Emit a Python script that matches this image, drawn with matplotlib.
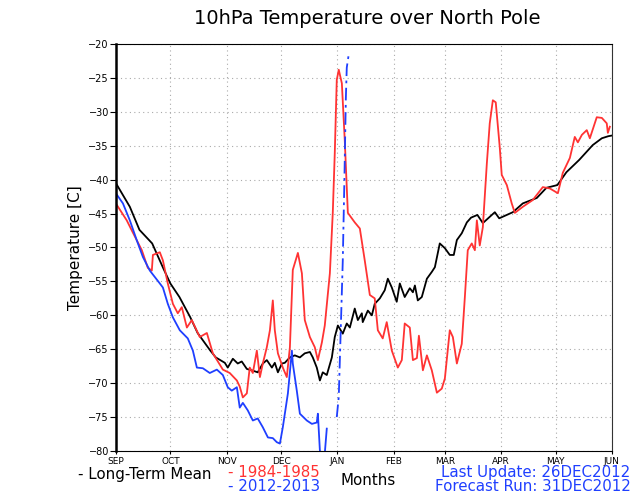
import numpy as np
import matplotlib
matplotlib.use("Agg")
import matplotlib.pyplot as plt

# days since 1 Sep
months = ['SEP', 'OCT', 'NOV', 'DEC', 'JAN', 'FEB', 'MAR', 'APR', 'MAY', 'JUN']
month_days = [0, 30, 61, 91, 122, 153, 181, 212, 242, 273]

mean_days = [0, 7.7, 13, 20, 26, 30, 35, 41, 45, 52, 55, 60, 61.6, 64.4, 67.1, 69.3,
             72.1, 74.8, 78.1, 80.9, 83.1, 85.9, 87.5, 89.2, 91.4, 93, 95.8, 98.5,
             101.3, 104, 106.8, 108.4, 110.6, 112.3, 113.9, 116.1, 118.9, 120.5, 122.2,
             124.9, 127.1, 128.8, 131.5, 133.2, 135.4, 135.9, 138.7, 140.9, 142.5,
             145.3, 148, 149.7, 151.9, 154.6, 156.3, 159, 161.8, 163.5, 164.6, 166.2,
             168.4, 171.2, 173.9, 175.6, 178.3, 181.1, 183.8, 186, 187.7, 190.4, 193.2,
             195.5, 199, 202, 208.6, 211, 218.5, 224, 231.7, 237, 243, 248, 255, 262.5,
             267.5, 271, 273]
mean_temp = [-40.5, -44, -47.4, -49.4, -53, -55.3, -57.3, -60.3, -62.6, -65.2, -66.2,
             -67, -67.7, -66.4, -67.1, -66.8, -67.9, -68.1, -68.4, -67.1, -66.6, -67.7,
             -67, -68.4, -67.1, -67, -66.2, -65.9, -66.2, -65.6, -65.4, -66.2, -67.7,
             -69.6, -68.4, -68.8, -66.2, -63.2, -61.5, -62.7, -61.2, -61.8, -59, -60.7,
             -59.7, -61, -59.3, -60, -58.3, -57.5, -56.3, -54.6, -55.9, -58, -55.3,
             -57.3, -56, -56.6, -55.6, -57.8, -57.3, -54.6, -53.6, -52.9, -49.4, -50.1,
             -51.1, -51.1, -48.9, -47.9, -46.3, -45.6, -45.2, -46.4, -44.8, -45.7,
             -44.8, -43.5, -42.7, -41.2, -40.8, -38.9, -37.1, -34.9, -33.9, -33.6,
             -33.5]

y1984_days = [0, 6, 8.8, 14.3, 17.6, 19.8, 20.4, 24.2, 25.9, 28.6, 31.4, 34.1, 36.3,
              39.1, 41.8, 46.2, 50.1, 53.4, 58.9, 62.7, 66.6, 68.2, 69.9, 72.1, 73.7,
              75.4, 77.6, 79.3, 80.9, 83.1, 84.8, 86.4, 87.5, 89.2, 91.9, 94.1, 95.8,
              97.4, 100.2, 102.4, 104, 106.8, 109.5, 111.2, 113.4, 115, 117.8, 119.4,
              120.5, 121.6, 122.7, 124.4, 126, 127.7, 131.5, 134.3, 137, 139.8, 142.5,
              144.2, 146.9, 149.1, 151.9, 155.2, 157.4, 159, 161.8, 163.5, 165.7, 166.8,
              169, 171.2, 173.9, 176.7, 179.4, 181.1, 183.8, 185.5, 187.7, 190.4, 192.1,
              193.7, 195.9, 197.6, 198.7, 200.3, 202, 204.2, 205.8, 207.5, 209.1, 211.3,
              212.4, 215.2, 217.9, 219.6, 224, 229.5, 235, 238.9, 243.3, 246, 249.9,
              252.6, 254.3, 256.5, 259.2, 260.9, 264.7, 267.5, 270.2, 270.8, 271.9]
y1984_temp = [-43.5, -46, -47.5, -50.4, -53, -53.4, -51.1, -50.7, -51.9, -55.3, -58.3,
              -59.7, -58.8, -61.8, -60.7, -63.2, -62.6, -65.6, -68, -68.5, -69.6, -70.5,
              -72.1, -71.5, -67.7, -68.5, -65.2, -69.1, -67.1, -64.7, -62.2, -57.8,
              -62.2, -65.6, -67.7, -69.1, -64.7, -53.3, -50.8, -53.8, -60.7, -63.2,
              -64.7, -66.6, -64, -61.5, -53.8, -44.9, -36.1, -25.3, -23.8, -25.8, -34.2,
              -44.9, -46.3, -47.2, -51.9, -57, -57.5, -62.2, -63.4, -61, -65.2, -67.7,
              -66.6, -61.2, -61.8, -66.6, -66.3, -63, -68.1, -65.9, -68.1, -71.4, -70.8,
              -69.3, -62.2, -63.2, -67.1, -64.2, -57.3, -50.4, -49.4, -50.4, -46, -49.7,
              -47, -37.6, -31.7, -28.3, -28.6, -35.2, -39.3, -40.8, -43.5, -44.9, -44,
              -43, -41.1, -41.3, -42, -39, -36.8, -33.7, -34.5, -33.4, -32.7, -33.9,
              -30.8, -30.9, -31.7, -33.1, -32.2]

y2012_days = [0, 3.9, 7.7, 11.6, 14.9, 18.7, 24.2, 25.9, 28.6, 31.4, 35.2, 39.6, 42.4,
              44.6, 47.9, 51.7, 55.6, 58.9, 61.6, 63.8, 66.6, 68.2, 69.9, 72.6, 75.4,
              78.1, 80.9, 83.7, 86.4, 88.6, 90.3, 91.9, 94.7, 96.9, 97.4, 99.6, 101.3,
              105.1, 107.9, 110.6, 111.2, 112.3, 113.4, 114.5, 116.1]
y2012_temp = [-42, -43.5, -46, -49, -51.4, -53.4, -55.3, -55.9, -58.3, -60.3, -62.2,
              -63.4, -65.2, -67.7, -67.8, -68.5, -68, -68.8, -70.6, -71.1, -70.6, -73.6,
              -72.9, -74, -75.5, -75.2, -76.5, -78, -78.1, -78.7, -78.9, -76.5, -71.5,
              -65.2, -67.1, -71.1, -74.5, -75.5, -76, -75.8, -74.5, -79.9, -82, -82,
              -76.7]

fcst_days = [121.6, 122.7, 123.8, 124.9, 125.8, 126.6, 127.1, 128.2]
fcst_temp = [-75, -72, -62, -52, -40, -28, -23.5, -21.5]

red = '#ff3333'
blue = '#1f3fff'

fig = plt.figure(figsize=(6.4, 4.94), dpi=100)
ax = fig.add_axes([0.181, 0.087, 0.775, 0.824])

ax.plot(mean_days, mean_temp, color='black', lw=1.3)
ax.plot(y1984_days, y1984_temp, color=red, lw=1.3)
ax.plot(y2012_days, y2012_temp, color=blue, lw=1.3)
ax.plot(fcst_days, fcst_temp, color=blue, lw=1.3, linestyle=(0, (7, 2.5, 1.5, 2.5)))

ax.set_xlim(0, 273)
ax.set_ylim(-80, -20)
ax.set_xticks(month_days)
ax.set_xticklabels(months, fontsize=6.5)
ax.set_yticks(np.arange(-80, -19, 5))
ax.tick_params(axis='y', labelsize=7, length=4, direction='out', pad=1)
ax.tick_params(axis='x', length=2, direction='out', pad=2)
ax.grid(True, linestyle=(0, (1, 3)), color='#aaaaaa', lw=0.8)

ax.spines['left'].set_linewidth(1.8)
ax.spines['bottom'].set_linestyle((0, (3, 1)))
ax.spines['top'].set_linestyle((0, (3, 1)))
ax.spines['right'].set_color('#333333')

ax.set_ylabel('Temperature [C]', fontsize=11, labelpad=4)
fig.text(0.574, 0.962, '10hPa Temperature over North Pole', ha='center', va='center',
         fontsize=14)

fig.text(0.122, 0.040, '- Long-Term Mean', fontsize=10.8, va='center', color='black')
fig.text(0.357, 0.043, '- 1984-1985', fontsize=10.8, va='center', color=red)
fig.text(0.357, 0.015, '- 2012-2013', fontsize=10.8, va='center', color=blue)
fig.text(0.532, 0.028, 'Months', fontsize=10.8, va='center', color='black')
fig.text(0.985, 0.043, 'Last Update: 26DEC2012', fontsize=10.8, va='center', ha='right',
         color=blue)
fig.text(0.985, 0.015, 'Forecast Run: 31DEC2012', fontsize=10.8, va='center', ha='right',
         color=blue)

fig.savefig('out.png', dpi=100)
